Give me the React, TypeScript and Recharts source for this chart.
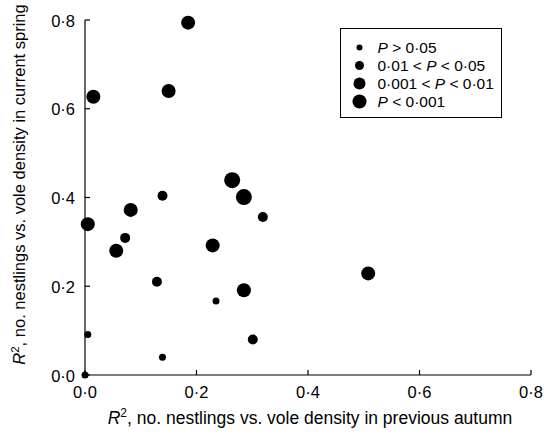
import React from "react";
import { ScatterChart, Scatter, XAxis, YAxis, Legend, Label } from "recharts";

// ---- data ----
const tickValues = [0, 0.2, 0.4, 0.6, 0.8];
const tickLabels = ["0·0", "0·2", "0·4", "0·6", "0·8"];

const categoryNames = ["P > 0·05", "0·01 < P < 0·05", "0·001 < P < 0·01", "P < 0·001"];
const categoryRadii = [3.5, 5, 7, 8];
const legendRadii = [3, 4.5, 6, 7];

// P > 0.05
const autumnNS = [0.235, 0.005, 0.139, 0.0];
const springNS = [0.167, 0.091, 0.040, 0.0];
// 0.01 < P < 0.05
const autumnP05 = [0.139, 0.072, 0.319, 0.129, 0.301];
const springP05 = [0.404, 0.309, 0.356, 0.210, 0.080];
// 0.001 < P < 0.01
const autumnP01 = [0.185, 0.015, 0.150, 0.082, 0.005, 0.056, 0.229, 0.285, 0.508];
const springP01 = [0.794, 0.627, 0.640, 0.372, 0.340, 0.280, 0.292, 0.191, 0.229];
// P < 0.001
const autumnP001 = [0.264, 0.285];
const springP001 = [0.439, 0.401];

const zip = (xs: number[], ys: number[]) => xs.map((x, i) => ({ x, y: ys[i] }));
const seriesData = [
  zip(autumnNS, springNS),
  zip(autumnP05, springP05),
  zip(autumnP01, springP01),
  zip(autumnP001, springP001),
];

const FONT = "'Liberation Sans', Arial, Helvetica, sans-serif";

const labelFor = (v: number) => {
  const i = tickValues.findIndex((t) => Math.abs(t - v) < 1e-9);
  return i >= 0 ? tickLabels[i] : String(v);
};

const renderWithItalicP = (s: string) => {
  const parts = s.split("P");
  const out: React.ReactNode[] = [];
  parts.forEach((p, i) => {
    if (i > 0) out.push(<tspan key={"p" + i} fontStyle="italic">P</tspan>);
    if (p) out.push(<tspan key={"t" + i}>{p}</tspan>);
  });
  return out;
};

const YTick = (props: any) => {
  const { x, y, payload } = props;
  return (
    <g>
      <line x1={x} x2={x + 5} y1={y} y2={y} stroke="#000" strokeWidth={1.2} />
      <text x={x - 10} y={y + 6.5} textAnchor="end" fontFamily={FONT} fontSize={16.5} fill="#000">
        {labelFor(payload.value)}
      </text>
    </g>
  );
};

const XTick = (props: any) => {
  const { x, y, payload } = props;
  return (
    <g>
      <line x1={x} x2={x} y1={y} y2={y - 5} stroke="#000" strokeWidth={1.2} />
      <text x={x} y={y + 23} textAnchor="middle" fontFamily={FONT} fontSize={16.5} fill="#000">
        {labelFor(payload.value)}
      </text>
    </g>
  );
};

const XTitle = (props: any) => {
  const vb = props.viewBox;
  const cx = vb.x + vb.width / 2 + 2;
  const by = vb.y + 49;
  return (
    <text x={cx} y={by} textAnchor="middle" fontFamily={FONT} fontSize={17.5} fill="#000">
      <tspan fontStyle="italic">R</tspan>
      <tspan fontSize={12} dy={-7}>2</tspan>
      <tspan dy={7}>, no. nestlings vs. vole density in previous autumn</tspan>
    </text>
  );
};

const YTitle = (props: any) => {
  const vb = props.viewBox;
  const cy = vb.y + vb.height / 2 - 13;
  const bx = 25;
  return (
    <text
      x={bx}
      y={cy}
      textAnchor="middle"
      transform={`rotate(-90, ${bx}, ${cy})`}
      fontFamily={FONT}
      fontSize={16.5}
      fill="#000"
    >
      <tspan fontStyle="italic">R</tspan>
      <tspan fontSize={11.5} dy={-6.5}>2</tspan>
      <tspan dy={6.5}>, no. nestlings vs. vole density in current spring</tspan>
    </text>
  );
};

const LegendBox = () => (
  <div
    style={{
      width: 162,
      height: 90,
      border: "1.5px solid #000",
      boxSizing: "border-box",
      background: "#fff",
    }}
  >
    <svg width={159} height={87} style={{ display: "block" }}>
      {categoryNames.map((name, i) => (
        <g key={name}>
          <circle cx={18.5} cy={18.5 + i * 18} r={legendRadii[i]} fill="#000" />
          <text x={36.5} y={18.5 + i * 18 + 5.5} fontFamily={FONT} fontSize={15.5} fill="#000">
            {renderWithItalicP(name)}
          </text>
        </g>
      ))}
    </svg>
  </div>
);

const makeShape = (r: number) => (props: any) => (
  <circle cx={props.cx} cy={props.cy} r={r} fill="#000" />
);

export default function App() {
  return (
    <div style={{ position: "absolute", left: 0, top: 0, background: "#fff" }}>
      <ScatterChart width={544} height={435} margin={{ top: 20, right: 13, left: 25, bottom: 0 }}>
        <XAxis
          type="number"
          dataKey="x"
          domain={[0, 0.8]}
          ticks={tickValues}
          height={60}
          tickSize={0}
          tickMargin={0}
          tickLine={false}
          axisLine={{ stroke: "#000", strokeWidth: 1.2 }}
          tick={<XTick />}
          interval={0}
        >
          <Label content={<XTitle />} />
        </XAxis>
        <YAxis
          type="number"
          dataKey="y"
          domain={[0, 0.8]}
          ticks={tickValues}
          width={60}
          tickSize={0}
          tickMargin={0}
          tickLine={false}
          axisLine={{ stroke: "#000", strokeWidth: 1.2 }}
          tick={<YTick />}
          interval={0}
        >
          <Label content={<YTitle />} />
        </YAxis>
        <Legend
          layout="vertical"
          align="center"
          verticalAlign="middle"
          content={<LegendBox />}
          wrapperStyle={{ position: "absolute", left: 340, top: 28, width: 162, height: 90, margin: 0, padding: 0 }}
        />
        {seriesData.map((d, i) => (
          <Scatter
            key={categoryNames[i]}
            name={categoryNames[i]}
            data={d}
            fill="#000"
            shape={makeShape(categoryRadii[i])}
            isAnimationActive={false}
          />
        ))}
      </ScatterChart>
    </div>
  );
}
